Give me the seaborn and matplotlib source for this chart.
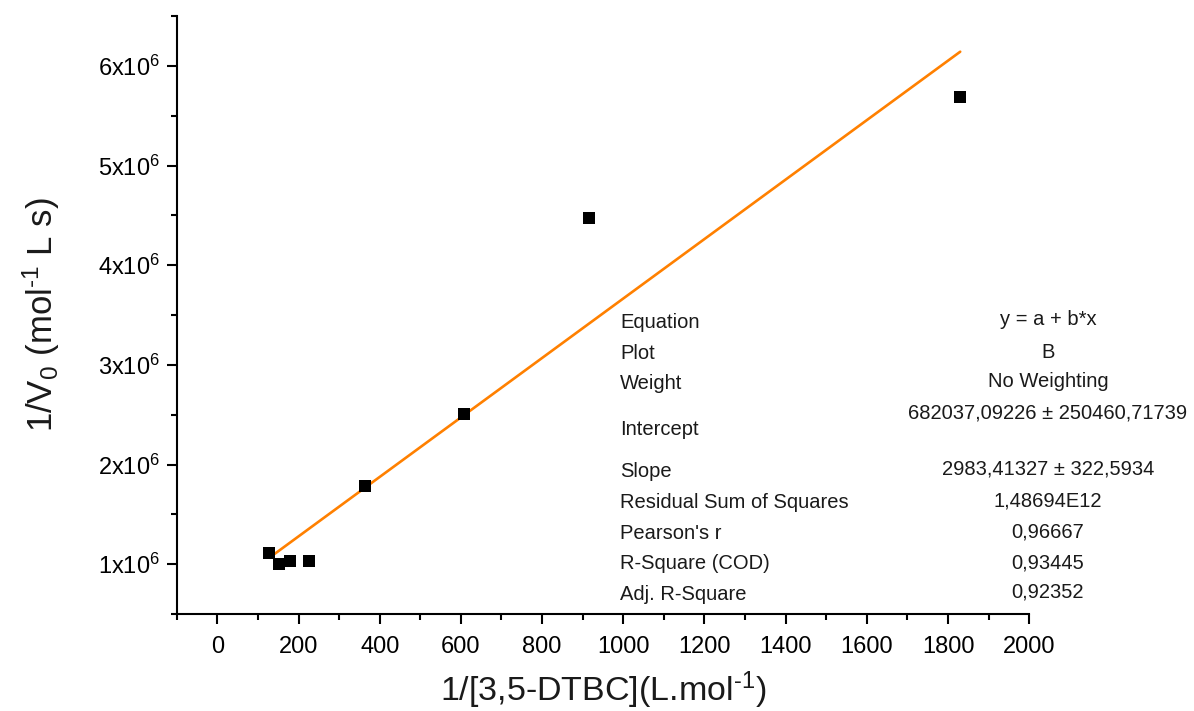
import matplotlib
matplotlib.use("Agg")
import matplotlib.pyplot as plt
import seaborn as sns
import numpy as np
import pandas as pd
from matplotlib.ticker import MultipleLocator, FuncFormatter

# ---- data ----
x_vals = [128, 151, 180, 227, 365, 607, 916, 1830]
y_vals = [1.114e6, 1.003e6, 1.033e6, 1.033e6, 1.788e6, 2.502e6, 4.474e6, 5.69e6]
intercept = 682037.09226
slope = 2983.41327

x_ticks = [0, 200, 400, 600, 800, 1000, 1200, 1400, 1600, 1800, 2000]
y_ticks = [1e6, 2e6, 3e6, 4e6, 5e6, 6e6]

table_labels = ["Equation", "Plot", "Weight", "Intercept", "Slope",
                "Residual Sum of Squares", "Pearson's r", "R-Square (COD)",
                "Adj. R-Square"]
table_values = ["y = a + b*x", "B", "No Weighting",
                "682037,09226 ± 250460,71739", "2983,41327 ± 322,5934",
                "1,48694E12", "0,96667", "0,93445", "0,92352"]

# ---- style ----
sns.set_theme(style="ticks")
plt.rcParams['font.family'] = ['Liberation Sans', 'DejaVu Sans']
plt.rcParams['mathtext.fontset'] = 'custom'
plt.rcParams['mathtext.rm'] = 'Liberation Sans'
plt.rcParams['mathtext.it'] = 'Liberation Sans:italic'
plt.rcParams['mathtext.bf'] = 'Liberation Sans:bold'

fig = plt.figure(figsize=(11.94, 7.11), dpi=100)
ax = fig.add_axes([0.148, 0.1364, 0.714, 0.8411])

df = pd.DataFrame({"x": x_vals, "y": y_vals})
sns.scatterplot(data=df, x="x", y="y", marker="s", s=85, color="black",
                edgecolor="black", linewidth=0, ax=ax, zorder=3)

fit_x = np.array([min(x_vals), max(x_vals)])
fit_df = pd.DataFrame({"x": fit_x, "y": intercept + slope * fit_x})
sns.lineplot(data=fit_df, x="x", y="y", color="#FF8000", linewidth=1.9, ax=ax, zorder=2)

ax.set_xlim(-100, 2000)
ax.set_ylim(0.5e6, 6.5e6)
ax.set_xticks(x_ticks)
ax.set_yticks(y_ticks)
ax.xaxis.set_minor_locator(MultipleLocator(100))
ax.yaxis.set_minor_locator(MultipleLocator(0.5e6))
ax.yaxis.set_major_formatter(FuncFormatter(lambda v, p: r"$\mathregular{%dx10^{6}}$" % round(v / 1e6)))

for side in ["top", "right"]:
    ax.spines[side].set_visible(False)
for side in ["left", "bottom"]:
    ax.spines[side].set_linewidth(1.5)
    ax.spines[side].set_color("black")

ax.tick_params(axis="both", which="major", direction="out", length=7, width=1.5,
               labelsize=17, colors="black")
ax.tick_params(axis="x", which="major", pad=9)
ax.tick_params(axis="y", which="major", pad=5)
ax.tick_params(axis="both", which="minor", direction="out", length=4, width=1.5, colors="black")

ax.set_xlabel("1/[3,5-DTBC](L.mol$^{\\mathregular{\u20101}}$)",
              fontsize=24.5, labelpad=8, color="#1a1a1a")
ax.set_ylabel("1/V$_{\\mathregular{0}}$ (mol$^{\\mathregular{\u20101}}$ L s)",
              fontsize=25, labelpad=26, color="#1a1a1a")

# ---- fit table ----
label_y = [0.487, 0.436, 0.385, 0.309, 0.239, 0.186, 0.135, 0.084, 0.033]
value_y = [0.492, 0.438, 0.388, 0.336, 0.243, 0.189, 0.137, 0.085, 0.036]
for lab, val, ly, vy in zip(table_labels, table_values, label_y, value_y):
    ax.text(0.52, ly, lab, transform=ax.transAxes, fontsize=14.5, ha="left",
            va="center", color="#1a1a1a", clip_on=False)
    ax.text(1.022, vy, val, transform=ax.transAxes, fontsize=14.5, ha="center",
            va="center", color="#1a1a1a", clip_on=False)

fig.savefig("out.png", dpi=100)
